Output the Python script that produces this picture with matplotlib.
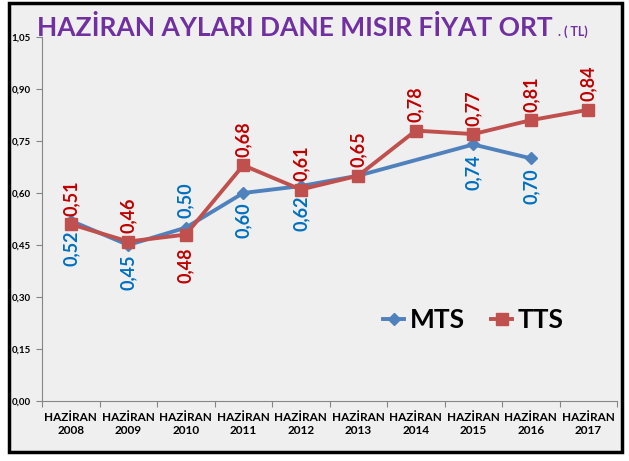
import numpy as np
import matplotlib.pyplot as plt
from matplotlib.patches import Rectangle
from matplotlib.lines import Line2D

# Haziran ayı dane mısır fiyat ortalamaları (TL)
years = ['2008', '2009', '2010', '2011', '2012', '2013', '2014', '2015', '2016', '2017']
mts = [0.52, 0.45, 0.50, 0.60, 0.62, 0.65, np.nan, 0.74, 0.70, np.nan]
tts = [0.51, 0.46, 0.48, 0.68, 0.61, 0.65, 0.78, 0.77, 0.81, 0.84]
mts_labels = ['0,52', '0,45', '0,50', '0,60', '0,62', None, None, '0,74', '0,70', None]
tts_labels = ['0,51', '0,46', '0,48', '0,68', '0,61', '0,65', '0,78', '0,77', '0,81', '0,84']
mts_above = [False, False, True, False, False, False, False, False, False, False]
tts_above = [True, True, False, True, True, True, True, True, True, True]
yticks = [0.00, 0.15, 0.30, 0.45, 0.60, 0.75, 0.90, 1.05]

plt.rcParams['font.family'] = ['Lato', 'DejaVu Sans']

fig = plt.figure(figsize=(6.29, 4.61), dpi=100)
fig.patch.set_facecolor('white')
fig.patches.append(Rectangle((9/629, 1-452/461), 613/629, 449/461, transform=fig.transFigure,
                             facecolor='#efefef', edgecolor='black', linewidth=2.5, zorder=-10))

ax = fig.add_axes([42/629, 1-401/461, 575/629, 364/461])
ax.set_facecolor('none')

x = np.arange(len(years))
m = np.array(mts, dtype=float)
ok = ~np.isnan(m)
ax.plot(x[ok], m[ok], color='#4F81BD', lw=2.8, marker='D', ms=6, zorder=3)
ax.plot(x, tts, color='#C0504D', lw=2.8, marker='s', ms=9, zorder=4)

for i in range(len(years)):
    if mts_labels[i]:
        if mts_above[i]:
            ax.annotate(mts_labels[i], (x[i], mts[i]), xytext=(0, 7), textcoords='offset points',
                        rotation=90, ha='center', va='bottom', color='#0070C0', fontsize=13, fontweight='bold')
        else:
            ax.annotate(mts_labels[i], (x[i], mts[i]), xytext=(0, -7), textcoords='offset points',
                        rotation=90, ha='center', va='top', color='#0070C0', fontsize=13, fontweight='bold')
    if tts_above[i]:
        ax.annotate(tts_labels[i], (x[i], tts[i]), xytext=(0, 6), textcoords='offset points',
                    rotation=90, ha='center', va='bottom', color='#C00000', fontsize=13, fontweight='bold')
    else:
        ax.annotate(tts_labels[i], (x[i], tts[i]), xytext=(0, -9), textcoords='offset points',
                    rotation=90, ha='center', va='top', color='#C00000', fontsize=13, fontweight='bold')

ax.set_xlim(-0.5, len(years) - 0.5)
ax.set_ylim(0, 1.05)
ax.set_yticks(yticks)
ax.set_yticklabels([f'{v:.2f}'.replace('.', ',') for v in yticks], fontsize=7, fontweight='bold')
ax.set_xticks(np.arange(len(years) + 1) - 0.5)
ax.set_xticklabels([])
ax.set_xticks(x, minor=True)
ax.set_xticklabels(['HAZİRAN\n' + y for y in years], minor=True, fontsize=8.5, fontweight='bold')
ax.tick_params(axis='x', which='minor', length=0, pad=8)
ax.tick_params(axis='both', which='major', length=4, color='#868686', pad=4)
for s in ['top', 'right']:
    ax.spines[s].set_visible(False)
for s in ['left', 'bottom']:
    ax.spines[s].set_color('#868686')

handles = [Line2D([], [], color='#4F81BD', lw=2.8, marker='D', ms=6),
           Line2D([], [], color='#C0504D', lw=2.8, marker='s', ms=9)]
leg = ax.legend(handles, ['MTS', 'TTS'], loc='center', bbox_to_anchor=(0.75, 0.222), ncol=2,
                frameon=False, handlelength=0.8, handletextpad=0.2, columnspacing=1.0,
                prop={'size': 19, 'weight': 'bold'})

fig.text(37/629, 1-36/461, 'HAZİRAN AYLARI DANE MISIR FİYAT ORT', color='#7030A0',
         fontsize=19, fontweight='bold', ha='left', va='baseline')
fig.text(558/629, 1-36/461, '. ( TL)', color='#7030A0', fontsize=9, fontweight='bold',
         ha='left', va='baseline')

fig.savefig('out.png', dpi=100)
